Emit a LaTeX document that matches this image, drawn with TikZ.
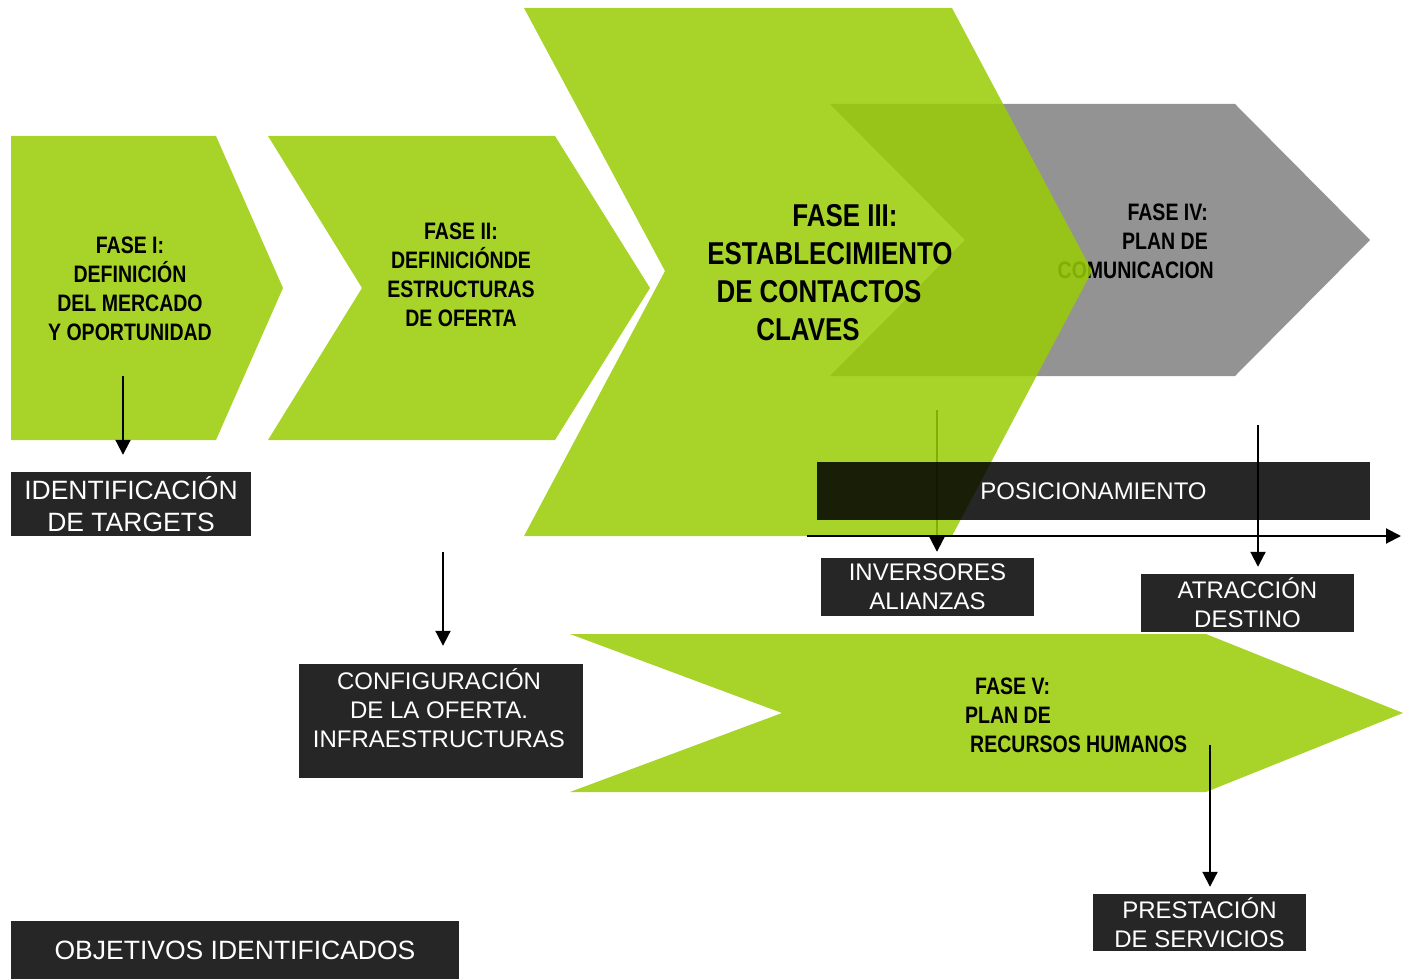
\documentclass[tikz,border=0pt]{standalone}
\usepackage{fontspec}
\setmainfont{Liberation Sans}
\newfontfamily\narrowfont[FakeStretch=0.82]{Liberation Sans}
\usetikzlibrary{arrows.meta}
\definecolor{lime}{RGB}{168,212,42}
\definecolor{limebase}{RGB}{153,205,5}
\definecolor{fasegray}{RGB}{147,147,147}
\begin{document}
\begin{tikzpicture}[x=1pt,y=-1pt,>={Triangle[width=15pt,length=15pt]},
  fasetxt/.style={inner sep=0pt,font=\narrowfont\bfseries\fontsize{23.8}{29}\selectfont},
  darkbox/.style={fill=black,fill opacity=.85,text opacity=1,text=white,inner sep=0pt,
    align=center,font=\fontsize{24}{29}\selectfont},
  pointer/.style={->,line width=2pt}]
\useasboundingbox (0,0) rectangle (1403,979);
% fases I y II
\fill[lime](11,136)--(216,136)--(283,288)--(216,440)--(11,440)--cycle;
\fill[lime](268,136)--(555,136)--(650,288)--(555,440)--(268,440)--(362,288)--cycle;
\node[fasetxt,align=center](f1) at (130,289){FASE I:\\DEFINICIÓN\\DEL MERCADO\\Y OPORTUNIDAD};
\node[fasetxt,align=center](f2) at (461,275){FASE II:\\DEFINICIÓNDE\\ESTRUCTURAS\\DE OFERTA};
% fase IV (queda debajo de la III)
\fill[fasegray](830,104)--(1235,104)--(1370,240)--(1235,376)--(830,376)--(965,240)--cycle;
\node[fasetxt,align=right,anchor=east](f4) at (1214,241)
  {\mbox{FASE IV:\hspace{6pt}}\\\mbox{PLAN DE\hspace{6pt}}\\COMUNICACION};
\coordinate (s3) at (937,410);
\coordinate (s4) at (1258,425);
\node[darkbox,minimum width=213,minimum height=58](inv) at (927.5,587){INVERSORES\\ALIANZAS};
\node[darkbox,minimum width=213,minimum height=58](atr) at (1247.5,603){ATRACCIÓN\\DESTINO};
\draw[pointer,shorten >=6pt](s3)--(s3|-inv.north);
% fase III
\fill[limebase,opacity=.85](524,8)--(952,8)--(1092,271)--(952,536)--(524,536)--(665,271)--cycle;
\node[fasetxt,align=center,font=\narrowfont\bfseries\fontsize{31.6}{38}\selectfont](f3) at (830,273)
  {\mbox{\hspace{30pt}FASE III:}\\ESTABLECIMIENTO\\\mbox{DE CONTACTOS\hspace{22pt}}\\\mbox{CLAVES\hspace{44pt}}};
\node[darkbox,minimum width=553,minimum height=58](pos) at (1093.5,491){POSICIONAMIENTO};
\coordinate (ax1) at (807,536);
\coordinate (ax2) at (1401,536);
\draw[pointer](ax1)--(ax2);
\draw[pointer,shorten >=7pt](s4)--(s4|-atr.north);
% fase V
\fill[lime](570,634)--(1206,634)--(1403,713)--(1206,792)--(570,792)--(782,713)--cycle;
\node[fasetxt,align=left,anchor=west](f5) at (965,715){\hspace*{10pt}FASE V:\\PLAN DE\\\hspace*{5pt}RECURSOS HUMANOS};
% cajas
\node[darkbox,minimum width=240,minimum height=64,font=\fontsize{26.5}{32}\selectfont](ident) at (131,504){IDENTIFICACIÓN\\DE TARGETS};
\node[darkbox,minimum width=284,minimum height=114](conf) at (441,721){};
\node[text=white,align=center,inner sep=0pt,font=\fontsize{24}{29}\selectfont](conftxt) at (439,708){CONFIGURACIÓN\\DE LA OFERTA.\\INFRAESTRUCTURAS};
\node[darkbox,minimum width=213,minimum height=57](prest) at (1199.5,922.5){PRESTACIÓN\\DE SERVICIOS};
\node[darkbox,minimum width=448,minimum height=59,font=\fontsize{26.5}{32}\selectfont](obj) at (235,950){OBJETIVOS IDENTIFICADOS};
\coordinate (s1) at (123,376);
\coordinate (s2) at (443,552);
\coordinate (s5) at (1210,745);
\draw[pointer,shorten >=17pt](s1)--(s1|-ident.north);
\draw[pointer,shorten >=18pt](s2)--(s2|-conf.north);
\draw[pointer,shorten >=7pt](s5)--(s5|-prest.north);
\end{tikzpicture}
\end{document}
